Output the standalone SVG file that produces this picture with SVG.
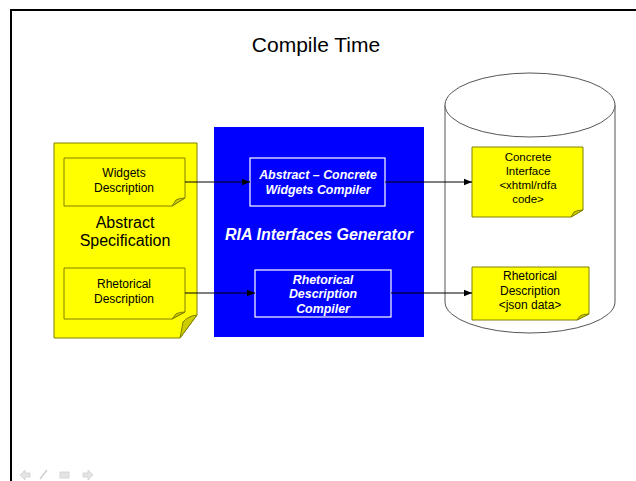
<svg xmlns="http://www.w3.org/2000/svg" width="636" height="481" viewBox="0 0 636 481">
<defs>
<style>
.t{font-family:"Liberation Sans",Arial,sans-serif;fill:#000;text-anchor:middle}
.w{font-family:"Liberation Sans",Arial,sans-serif;fill:#fff;text-anchor:middle;font-weight:bold;font-style:italic}
.note{fill:#ffff00;stroke:#808000;stroke-width:1}
.curl{fill:#cccc00;stroke:#808000;stroke-width:1;stroke-linejoin:round}
.cmp{fill:none;stroke:#fff;stroke-width:1.2}
.ln{stroke:#000;stroke-width:1;fill:none;marker-end:url(#ah)}
</style>
<marker id="ah" viewBox="0 0 10 10" refX="10" refY="5" markerWidth="8" markerHeight="8" markerUnits="userSpaceOnUse" orient="auto">
<path d="M0,1 L10,5 L0,9 z" fill="#000"/>
</marker>
</defs>
<rect width="636" height="481" fill="#fff"/>
<path d="M11,481 V10 H636" fill="none" stroke="#000" stroke-width="2"/>
<text class="t" x="316" y="52" font-size="21">Compile Time</text>

<g id="abstract-spec">
<path class="note" d="M54,143 H197 V315 L180,338 H54 Z"/>
<path class="curl" d="M197,315 L180,338 L183,322 Q188,316 197,315 Z"/>
<text class="t" x="125" y="228" font-size="16">Abstract</text>
<text class="t" x="125" y="246" font-size="16">Specification</text>
</g>

<g id="widgets-desc">
<path class="note" d="M64,158 H185 V198 L172,206 H64 Z"/>
<path class="curl" d="M185,198 L172,206 L176,200 Q179,198 185,198 Z"/>
<text class="t" x="124" y="177" font-size="12">Widgets</text>
<text class="t" x="124" y="192" font-size="12">Description</text>
</g>

<g id="rhetorical-desc">
<path class="note" d="M64,268 H185 V312 L172,319 H64 Z"/>
<path class="curl" d="M185,312 L172,319 L176,314 Q179,312 185,312 Z"/>
<text class="t" x="124" y="288" font-size="12">Rhetorical</text>
<text class="t" x="124" y="303" font-size="12">Description</text>
</g>

<g id="ria-generator">
<rect x="214" y="127" width="210" height="210" fill="#0000ff"/>
<text class="w" x="319" y="240" font-size="16">RIA Interfaces Generator</text>
</g>

<g id="ac-compiler">
<rect class="cmp" x="250" y="158" width="135" height="48"/>
<text class="w" x="318" y="179" font-size="12.4">Abstract – Concrete</text>
<text class="w" x="318" y="194" font-size="12.4">Widgets Compiler</text>
</g>

<g id="rd-compiler">
<rect class="cmp" x="255" y="270" width="136" height="47"/>
<text class="w" x="323" y="284" font-size="12.4">Rhetorical</text>
<text class="w" x="323" y="298" font-size="12.4">Description</text>
<text class="w" x="323" y="313" font-size="12.4">Compiler</text>
</g>

<g id="repository">
<path d="M445,105 V302 A85,31 0 0 0 615,302 V105" fill="#fff" stroke="#555" stroke-width="1"/>
<ellipse cx="530" cy="105" rx="85" ry="32" fill="#fff" stroke="#555" stroke-width="1"/>
</g>

<g id="concrete-interface">
<path class="note" d="M472,147 H583 V210 L571,217 H472 Z"/>
<path class="curl" d="M583,210 L571,217 L574,212 Q577,210 583,210 Z"/>
<text class="t" x="528" y="161" font-size="11.5">Concrete</text>
<text class="t" x="528" y="175" font-size="11.5">Interface</text>
<text class="t" x="528" y="189" font-size="11.5">&lt;xhtml/rdfa</text>
<text class="t" x="528" y="203" font-size="11.5">code&gt;</text>
</g>

<g id="json-data">
<path class="note" d="M472,267 H589 V314 L577,320 H472 Z"/>
<path class="curl" d="M589,314 L577,320 L580,316 Q583,314 589,314 Z"/>
<text class="t" x="530" y="280" font-size="12">Rhetorical</text>
<text class="t" x="530" y="295" font-size="12">Description</text>
<text class="t" x="530" y="309" font-size="12">&lt;json data&gt;</text>
</g>

<g id="connectors">
<line class="ln" x1="185" y1="182" x2="250" y2="182"/>
<line class="ln" x1="385" y1="182" x2="472" y2="182"/>
<line class="ln" x1="185" y1="293" x2="255" y2="293"/>
<line class="ln" x1="391" y1="293" x2="472" y2="293"/>
</g>

<g id="nav" fill="#e4e4e4" stroke="#d0d0d0" stroke-width="0.8">
<path d="M20,475 L25,470 V473 H30 V477 H25 V480 Z"/>
<path d="M40,479 L47,470" fill="none" stroke-width="1.5"/>
<rect x="60" y="472" width="9" height="6"/>
<path d="M93,475 L88,470 V473 H83 V477 H88 V480 Z"/>
</g>
</svg>
